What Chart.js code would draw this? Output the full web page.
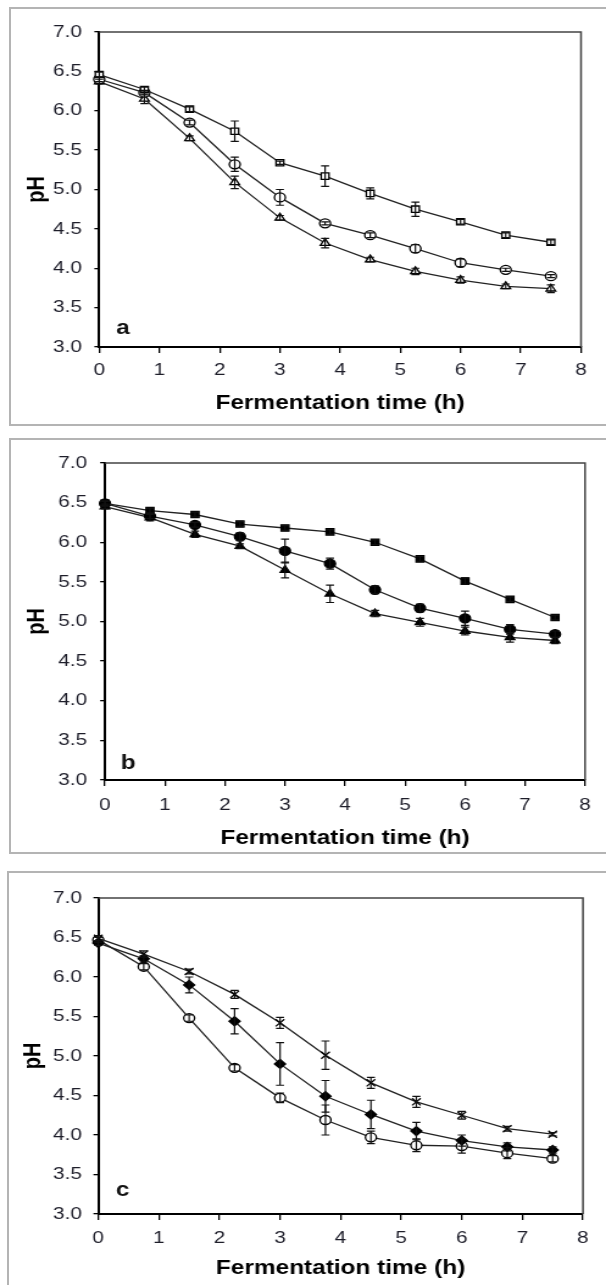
<!DOCTYPE html>
<html><head><meta charset="utf-8">
<script src="https://cdn.jsdelivr.net/npm/chart.js@4/dist/chart.umd.min.js"></script>
<style>
html,body{margin:0;padding:0;background:#fff;}
body{width:606px;height:1285px;position:relative;overflow:hidden;}
.frame{position:absolute;border:2px solid #b4b4b4;box-sizing:border-box;}
.wrap{position:absolute;left:0;transform-origin:0 0;}
</style></head><body>
<div class="frame" style="left:9px;top:7px;width:610px;height:419px"></div>
<div class="frame" style="left:9px;top:438px;width:610px;height:416px"></div>
<div class="frame" style="left:7px;top:871px;width:612px;height:430px"></div>
<div class="wrap" id="wa" style="top:0px"><canvas id="ca" width="497" height="430"></canvas></div>
<div class="wrap" id="wb" style="top:430px"><canvas id="cb" width="497" height="430"></canvas></div>
<div class="wrap" id="wc" style="top:860px"><canvas id="cc" width="497" height="425"></canvas></div>
<script>
// ---------- data ----------
const timeH = [0, 0.75, 1.5, 2.25, 3, 3.75, 4.5, 5.25, 6, 6.75, 7.5];
const xTickValues = [0, 1, 2, 3, 4, 5, 6, 7, 8];
const yTickValues = [3.0, 3.5, 4.0, 4.5, 5.0, 5.5, 6.0, 6.5, 7.0];
const panelLetters = ['a', 'b', 'c'];
const xTitle = 'Fermentation time (h)';
const yTitle = 'pH';

// panel a
const phA_square   = [6.46, 6.27, 6.02, 5.74, 5.34, 5.17, 4.95, 4.75, 4.59, 4.42, 4.33];
const errA_square  = [0.03, 0.03, 0.03, 0.13, 0.02, 0.13, 0.07, 0.09, 0.03, 0.03, 0.03];
const phA_circle   = [6.40, 6.23, 5.85, 5.32, 4.90, 4.57, 4.42, 4.25, 4.07, 3.98, 3.90];
const errA_circle  = [0.03, 0.03, 0.03, 0.09, 0.10, 0.02, 0.03, 0.05, 0.05, 0.02, 0.02];
const phA_triangle = [6.37, 6.15, 5.65, 5.09, 4.64, 4.32, 4.11, 3.96, 3.85, 3.77, 3.74];
const errA_triangle= [0.03, 0.06, 0.03, 0.08, 0.03, 0.06, 0.03, 0.04, 0.04, 0.03, 0.05];

// panel b
const phB_square   = [6.49, 6.40, 6.35, 6.23, 6.18, 6.13, 6.00, 5.79, 5.51, 5.28, 5.05];
const errB_square  = [0.03, 0.03, 0.03, 0.03, 0.03, 0.03, 0.03, 0.03, 0.04, 0.03, 0.03];
const phB_circle   = [6.49, 6.33, 6.22, 6.07, 5.89, 5.73, 5.40, 5.17, 5.04, 4.90, 4.84];
const errB_circle  = [0.03, 0.03, 0.03, 0.05, 0.15, 0.07, 0.05, 0.05, 0.09, 0.06, 0.04];
const phB_triangle = [6.45, 6.31, 6.10, 5.95, 5.65, 5.35, 5.10, 4.99, 4.88, 4.80, 4.76];
const errB_triangle= [0.03, 0.04, 0.04, 0.03, 0.10, 0.11, 0.04, 0.05, 0.05, 0.06, 0.04];

// panel c
const phC_cross    = [6.49, 6.29, 6.07, 5.78, 5.42, 5.01, 4.66, 4.42, 4.25, 4.08, 4.01];
const errC_cross   = [0.03, 0.04, 0.03, 0.05, 0.07, 0.18, 0.07, 0.07, 0.05, 0.03, 0.02];
const phC_diamond  = [6.43, 6.23, 5.90, 5.44, 4.90, 4.49, 4.26, 4.05, 3.93, 3.85, 3.81];
const errC_diamond = [0.03, 0.04, 0.10, 0.16, 0.27, 0.20, 0.18, 0.11, 0.07, 0.05, 0.04];
const phC_circle   = [6.47, 6.13, 5.48, 4.85, 4.47, 4.19, 3.97, 3.87, 3.86, 3.77, 3.70];
const errC_circle  = [0.03, 0.04, 0.04, 0.04, 0.06, 0.19, 0.08, 0.08, 0.09, 0.07, 0.04];

// ---------- rendering ----------
const SX = 606 / 497;
document.querySelectorAll('.wrap').forEach(w => w.style.transform = 'scaleX(' + SX + ')');
const FAM = "'Liberation Sans', Arial, Helvetica, sans-serif";
Chart.defaults.font.family = FAM;

function pts(vals) { return timeH.map((t, i) => ({x: t, y: vals[i]})); }

function series(vals, errs, style, filled) {
  return {
    data: pts(vals), errors: errs,
    borderColor: '#222', borderWidth: 1.3, tension: 0, clip: false,
    pointStyle: style, pointRadius: style === 'crossRot' ? 5 : 4.5,
    pointBorderColor: '#000', pointBorderWidth: 1.3,
    pointBackgroundColor: filled ? '#000' : '#fff'
  };
}

const decorPlugin = {
  id: 'decor',
  beforeDatasetsDraw(chart) {
    const {ctx, chartArea: a} = chart;
    ctx.save();
    ctx.strokeStyle = '#444'; ctx.lineWidth = 1.5;
    ctx.beginPath(); ctx.moveTo(a.left, a.top); ctx.lineTo(a.right, a.top); ctx.lineTo(a.right, a.bottom); ctx.stroke();
    ctx.restore();
  },
  afterDatasetsDraw(chart) {
    const {ctx, scales: {x, y}} = chart;
    ctx.save(); ctx.strokeStyle = '#111'; ctx.lineWidth = 1.2;
    chart.data.datasets.forEach(ds => {
      if (!ds.errors) return;
      ds.data.forEach((p, j) => {
        const e = ds.errors[j]; if (!e) return;
        const px = x.getPixelForValue(p.x);
        const y1 = y.getPixelForValue(p.y + e), y2 = y.getPixelForValue(p.y - e);
        ctx.beginPath();
        ctx.moveTo(px, y1); ctx.lineTo(px, y2);
        ctx.moveTo(px - 3.3, y1); ctx.lineTo(px + 3.3, y1);
        ctx.moveTo(px - 3.3, y2); ctx.lineTo(px + 3.3, y2);
        ctx.stroke();
      });
    });
    ctx.restore();
  },
  afterDraw(chart) {
    const g = chart.options.plugins.decor;
    const {ctx, chartArea: a} = chart;
    ctx.save();
    ctx.fillStyle = '#111'; ctx.font = 'bold 20px ' + FAM;
    ctx.textAlign = 'center'; ctx.textBaseline = 'middle';
    ctx.fillText(g.letter, a.left + g.lx, a.bottom + g.ly);
    ctx.restore();
  }
};

function makeChart(id, datasets, g) {
  return new Chart(document.getElementById(id), {
    type: 'line',
    data: {datasets},
    plugins: [decorPlugin],
    options: {
      responsive: false, animation: false, devicePixelRatio: 1,
      layout: {padding: {left: g.padL, right: g.padR, top: g.padT, bottom: g.padB}},
      plugins: {legend: {display: false}, tooltip: {enabled: false},
        decor: {letter: g.letter, lx: g.lx, ly: g.ly}},
      scales: {
        x: {
          type: 'linear', min: 0, max: 8,
          afterBuildTicks: s => { s.ticks = xTickValues.map(v => ({value: v})); },
          afterFit: s => { s.height = g.xH; },
          ticks: {font: {size: 17}, color: '#1e1e2a', padding: g.xPad, maxRotation: 0, autoSkip: false,
                  callback: v => String(v)},
          grid: {drawOnChartArea: false, drawTicks: true, tickLength: 6, color: '#000', lineWidth: 1.3},
          border: {color: '#000', width: 2},
          title: {display: true, text: xTitle, color: '#000', padding: 0,
                  font: {size: 20, weight: 'bold'}}
        },
        y: {
          type: 'linear', min: 3, max: 7,
          afterBuildTicks: s => { s.ticks = yTickValues.map(v => ({value: v})); },
          afterFit: s => { s.width = g.yW; },
          ticks: {font: {size: 17}, color: '#1e1e2a', padding: g.yPad, autoSkip: false,
                  callback: v => Number(v).toFixed(1)},
          grid: {drawOnChartArea: false, drawTicks: true, tickLength: 4, color: '#000', lineWidth: 1.3},
          border: {color: '#000', width: 2},
          title: {display: true, text: yTitle, color: '#000', padding: {top: g.tPad, bottom: 0},
                  font: {size: 20, weight: 'bold'}}
        }
      }
    }
  });
}

makeChart('ca', [
  series(phA_square, errA_square, 'rect', false),
  series(phA_circle, errA_circle, 'circle', false),
  series(phA_triangle, errA_triangle, 'triangle', false)
], {letter: panelLetters[0], padL: 10, yW: 71.4, padR: 20.5, padT: 32, padB: 15, xH: 68, xPad: 7, yPad: 10.2, tPad: 8.3, lx: 19.5, ly: -19});

makeChart('cb', [
  series(phB_square, errB_square, 'rect', true),
  series(phB_circle, errB_circle, 'circle', true),
  series(phB_triangle, errB_triangle, 'triangle', true)
], {letter: panelLetters[1], padL: 10, yW: 76.1, padR: 17.2, padT: 33, padB: 10, xH: 70, xPad: 9, yPad: 10.7, tPad: 8.3, lx: 19, ly: -17});

makeChart('cc', [
  series(phC_cross, errC_cross, 'crossRot', false),
  series(phC_diamond, errC_diamond, 'rectRot', true),
  series(phC_circle, errC_circle, 'circle', false)
], {letter: panelLetters[2], padL: 8, yW: 72.6, padR: 18.9, padT: 38, padB: 5, xH: 66, xPad: 8, yPad: 9.4, tPad: 7, lx: 20, ly: -24});
</script>
</body></html>
